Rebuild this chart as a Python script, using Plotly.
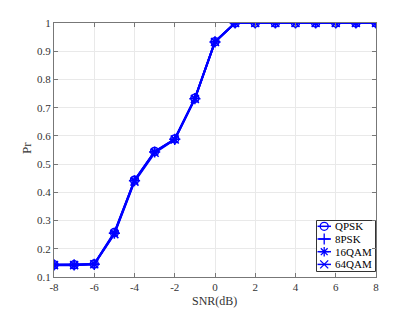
import plotly.graph_objects as go

snr = [-8, -7, -6, -5, -4, -3, -2, -1, 0, 1, 2, 3, 4, 5, 6, 7, 8]
qpsk  = [0.143, 0.143, 0.146, 0.258, 0.443, 0.545, 0.589, 0.733, 0.934, 1, 1, 1, 1, 1, 1, 1, 1]
psk8  = [0.143, 0.143, 0.145, 0.255, 0.441, 0.543, 0.588, 0.732, 0.933, 1, 1, 1, 1, 1, 1, 1, 1]
qam16 = [0.143, 0.143, 0.146, 0.256, 0.442, 0.544, 0.588, 0.733, 0.934, 1, 1, 1, 1, 1, 1, 1, 1]
qam64 = [0.142, 0.142, 0.145, 0.252, 0.438, 0.540, 0.587, 0.731, 0.933, 1, 1, 1, 1, 1, 1, 1, 1]
names = ["QPSK", "8PSK", "16QAM", "64QAM"]
symbols = ["circle-open", "cross-thin-open", "asterisk-open", "x-thin-open"]
series = [qpsk, psk8, qam16, qam64]

xticks = [-8, -6, -4, -2, 0, 2, 4, 6, 8]
xtext = ["-8", "-6", "-4", "-2", "0", "2", "4", "6", "8"]
yticks = [0.1, 0.2, 0.3, 0.4, 0.5, 0.6, 0.7, 0.8, 0.9, 1]
ytext = ["0.1", "0.2", "0.3", "0.4", "0.5", "0.6", "0.7", "0.8", "0.9", "1"]

blue = "#0000ff"
font = "Liberation Serif"
OFF = 8  # default page body margin
W, H = 415 - OFF, 311 - OFF
ML, MR, MT, MB = 54 - OFF, 39, 23 - OFF, 34
PW, PH = W - ML - MR, H - MT - MB

fig = go.Figure()
for n, s, v in zip(names, symbols, series):
    fig.add_trace(go.Scatter(
        x=snr, y=v, name=n, mode="lines+markers", showlegend=False,
        line=dict(color=blue, width=2),
        marker=dict(symbol=s, size=8, color=blue, line=dict(color=blue, width=1.5)),
    ))

# compact MATLAB-style legend on an overlay axis spanning the plot area (0..1);
# helpers map screen pixels to plot-area fractions
def px_x(p):
    return (p - OFF - ML) / PW

def px_y(p):
    return (OFF + H - MB - p) / PH

box_x0, box_x1 = px_x(316.5), px_x(375.5)
box_y0, box_y1 = px_y(271.5), px_y(220.5)
row_px = [226.3, 239.0, 251.7, 264.4]
line_x0, line_x1, mark_x, text_x = px_x(317.5), px_x(331), px_x(324.2), px_x(332.5)

fig.add_trace(go.Scatter(
    x=[box_x0, box_x1, box_x1, box_x0, box_x0], y=[box_y0, box_y0, box_y1, box_y1, box_y0],
    xaxis="x2", yaxis="y2", mode="lines", fill="toself", fillcolor="white",
    line=dict(color="#333333", width=1), showlegend=False, hoverinfo="skip",
))

annotations = []
for i, (n, s) in enumerate(zip(names, symbols)):
    yy = px_y(row_px[i])
    fig.add_trace(go.Scatter(
        x=[line_x0, line_x1], y=[yy, yy], xaxis="x2", yaxis="y2",
        mode="lines", showlegend=False, hoverinfo="skip",
        line=dict(color=blue, width=1.5),
    ))
    fig.add_trace(go.Scatter(
        x=[mark_x], y=[yy], xaxis="x2", yaxis="y2",
        mode="markers", showlegend=False, hoverinfo="skip",
        marker=dict(symbol=s, size=8, color=blue, line=dict(color=blue, width=1.3)),
    ))
    annotations.append(dict(xref="x2", yref="y2", x=text_x, y=yy, text=n, showarrow=False,
                            xanchor="left", yanchor="middle",
                            font=dict(family=font, size=11, color="#000000")))

annotations.append(dict(xref="paper", yref="paper", x=px_x(214.5), y=px_y(301), text="SNR(dB)",
                        showarrow=False, xanchor="center", yanchor="middle",
                        font=dict(family=font, size=12, color="#333333")))
annotations.append(dict(xref="paper", yref="paper", x=px_x(26), y=px_y(148), text="Pr", textangle=-90,
                        showarrow=False, xanchor="center", yanchor="middle",
                        font=dict(family=font, size=13, color="#333333")))

axis_common = dict(
    showline=True, linecolor="#777777", linewidth=1, mirror="ticks",
    ticks="inside", ticklen=4, tickcolor="#777777", automargin=False,
    showgrid=True, gridcolor="#e9e9e9", gridwidth=1, zeroline=False,
    tickfont=dict(family=font, size=11, color="#333333"),
)
fig.update_layout(
    width=W, height=H,
    margin=dict(l=ML, r=MR, t=MT, b=MB),
    paper_bgcolor="white", plot_bgcolor="white",
    xaxis=dict(range=[-8, 8], tickvals=xticks, ticktext=xtext, **axis_common),
    yaxis=dict(range=[0.1, 1], tickvals=yticks, ticktext=ytext, **axis_common),
    xaxis2=dict(overlaying="x", range=[0, 1], visible=False, fixedrange=True),
    yaxis2=dict(overlaying="y", range=[0, 1], visible=False, fixedrange=True),
    annotations=annotations,
    showlegend=False,
)
fig.write_html("out.html")
